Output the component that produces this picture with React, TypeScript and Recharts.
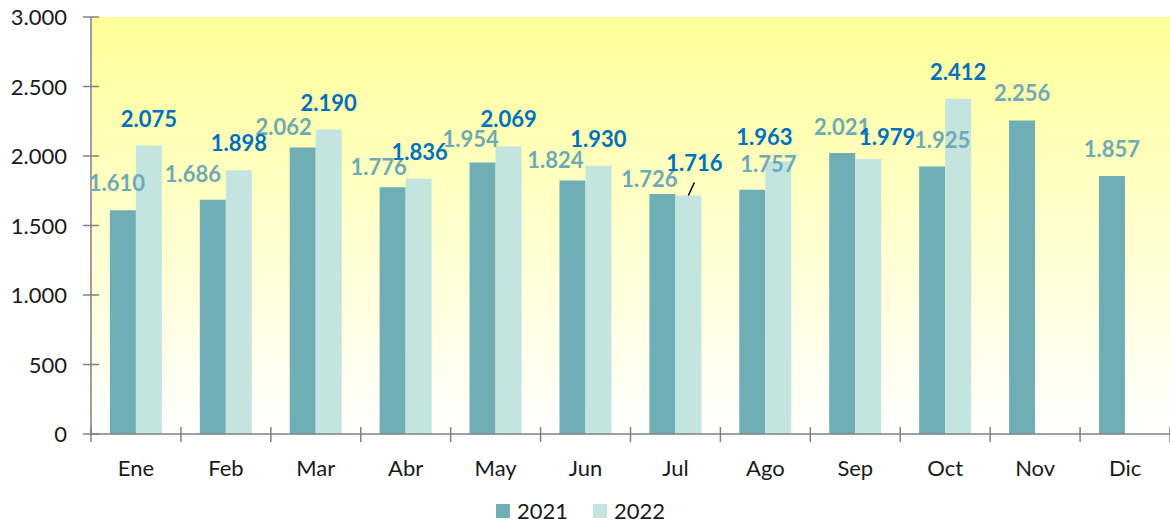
import { BarChart, Bar, XAxis, YAxis, CartesianGrid, Legend, LabelList } from "recharts";

const months = ["Ene", "Feb", "Mar", "Abr", "May", "Jun", "Jul", "Ago", "Sep", "Oct", "Nov", "Dic"];
const values2021 = [1610, 1686, 2062, 1776, 1954, 1824, 1726, 1757, 2021, 1925, 2256, 1857];
const values2022 = [2075, 1898, 2190, 1836, 2069, 1930, 1716, 1963, 1979, 2412, null, null];
const yTicks = [0, 500, 1000, 1500, 2000, 2500, 3000];

const data = months.map((m, i) => ({ month: m, y2021: values2021[i], y2022: values2022[i] }));

// layout
const W = 1170;
const H = 525;
const AXIS_X = 91;
const TOP = 17;
const X_AXIS_H = 91;
const BAND = (W - AXIS_X) / months.length;

const FONT = "Lato, 'Open Sans', sans-serif";
const AXIS_COLOR = "#808080";
const BAR_2021 = "#6FAEB5";
const BAR_2022 = "#C4E4E0";
const LABEL_2021 = "#6EA9B8";
const LABEL_2022 = "#0070C0";

// Excel moved some overlapping labels; [dx, dy] nudges by month
const nudge2021: Record<string, [number, number]> = {
  Ene: [-6, 0], Feb: [-20, 1], Mar: [-19, 7], Abr: [-14, 7], May: [-12, 4], Jun: [-17, 7],
  Jul: [-13, 12], Ago: [16, 1], Sep: [0, 1], Oct: [10, 1],
};
const nudge2022: Record<string, [number, number]> = {
  Abr: [1, 0], Jul: [6, -5], Ago: [-14, 3], Sep: [19, 5],
};

const fmt = (v: number) =>
  v >= 1000 ? `${Math.floor(v / 1000)}.${String(v % 1000).padStart(3, "0")}` : String(v);

const XTick = (props: any) => {
  const { x, y, payload, index } = props;
  const half = BAND / 2;
  return (
    <g>
      <line x1={x - half} x2={x - half} y1={y - 7} y2={y + 8} stroke={AXIS_COLOR} strokeWidth={1.5} />
      {index === months.length - 1 && (
        <line x1={x + half} x2={x + half} y1={y - 7} y2={y + 8} stroke={AXIS_COLOR} strokeWidth={1.5} />
      )}
      <text x={x} y={y + 42} textAnchor="middle" fontFamily={FONT} fontSize={22} fill="#1a1a1a">
        {payload.value}
      </text>
    </g>
  );
};

const YTick = (props: any) => {
  const { x, y, payload } = props;
  return (
    <g>
      <line x1={x - 8} x2={x + 8} y1={y} y2={y} stroke={AXIS_COLOR} strokeWidth={1.5} />
      <text x={x - 24} y={y + 8} textAnchor="end" fontFamily={FONT} fontSize={22} fill="#1a1a1a">
        {fmt(payload.value)}
      </text>
    </g>
  );
};

const makeLabel = (series: "2021" | "2022") => (props: any) => {
  const { x, y, width, value, index } = props;
  if (value == null) return null;
  const month = months[index];
  const table = series === "2021" ? nudge2021 : nudge2022;
  const [dx, dy] = table[month] || [0, 0];
  const cx = x + width / 2;
  return (
    <g>
      {series === "2022" && month === "Jul" && (
        <line x1={cx + 6} y1={y - 13} x2={cx} y2={y} stroke="#000" strokeWidth={1.5} />
      )}
      <text
        x={cx + dx}
        y={y - 19 + dy}
        textAnchor="middle"
        fontFamily={FONT}
        fontSize={22}
        fontWeight={700}
        fill={series === "2021" ? LABEL_2021 : LABEL_2022}
      >
        {fmt(value)}
      </text>
    </g>
  );
};

const LegendContent = (props: any) => {
  const items = props.payload || [];
  return (
    <div style={{ display: "flex", alignItems: "center", marginLeft: 496, fontFamily: FONT, fontSize: 22, color: "#1a1a1a" }}>
      {items.map((it: any) => (
        <div key={it.value} style={{ display: "flex", alignItems: "center", marginRight: 25 }}>
          <span style={{ width: 14, height: 14, background: it.color, marginRight: 7, display: "inline-block" }} />
          <span>{it.value}</span>
        </div>
      ))}
    </div>
  );
};

export default function App() {
  return (
    <div style={{ width: W, height: H, background: "#fff" }}>
      <style>{"body{margin:0}"}</style>
      <BarChart
        width={W}
        height={H}
        data={data}
        margin={{ top: TOP, right: 0, left: 0, bottom: 0 }}
        barCategoryGap="21%"
        barGap={0}
      >
        <defs>
          <linearGradient id="bgGrad" x1="0" y1="0" x2="0" y2="1">
            <stop offset="0%" stopColor="#FFFF99" />
            <stop offset="100%" stopColor="#FFFFFF" />
          </linearGradient>
        </defs>
        <CartesianGrid fill="url(#bgGrad)" horizontal={false} vertical={false} stroke="none" />
        <XAxis
          dataKey="month"
          height={X_AXIS_H}
          interval={0}
          tickSize={0}
          tickMargin={0}
          tickLine={false}
          axisLine={{ stroke: AXIS_COLOR, strokeWidth: 1.5 }}
          tick={<XTick />}
        />
        <YAxis
          width={AXIS_X}
          domain={[0, 3000]}
          ticks={yTicks}
          interval={0}
          tickSize={0}
          tickMargin={0}
          tickLine={false}
          axisLine={{ stroke: AXIS_COLOR, strokeWidth: 1.5 }}
          tick={<YTick />}
        />
        <Legend
          verticalAlign="middle"
          layout="horizontal"
          wrapperStyle={{ top: 497, left: 0, width: W }}
          content={<LegendContent />}
        />
        <Bar dataKey="y2021" name="2021" fill={BAR_2021} isAnimationActive={false}>
          <LabelList dataKey="y2021" content={makeLabel("2021")} />
        </Bar>
        <Bar dataKey="y2022" name="2022" fill={BAR_2022} isAnimationActive={false}>
          <LabelList dataKey="y2022" content={makeLabel("2022")} />
        </Bar>
      </BarChart>
    </div>
  );
}
